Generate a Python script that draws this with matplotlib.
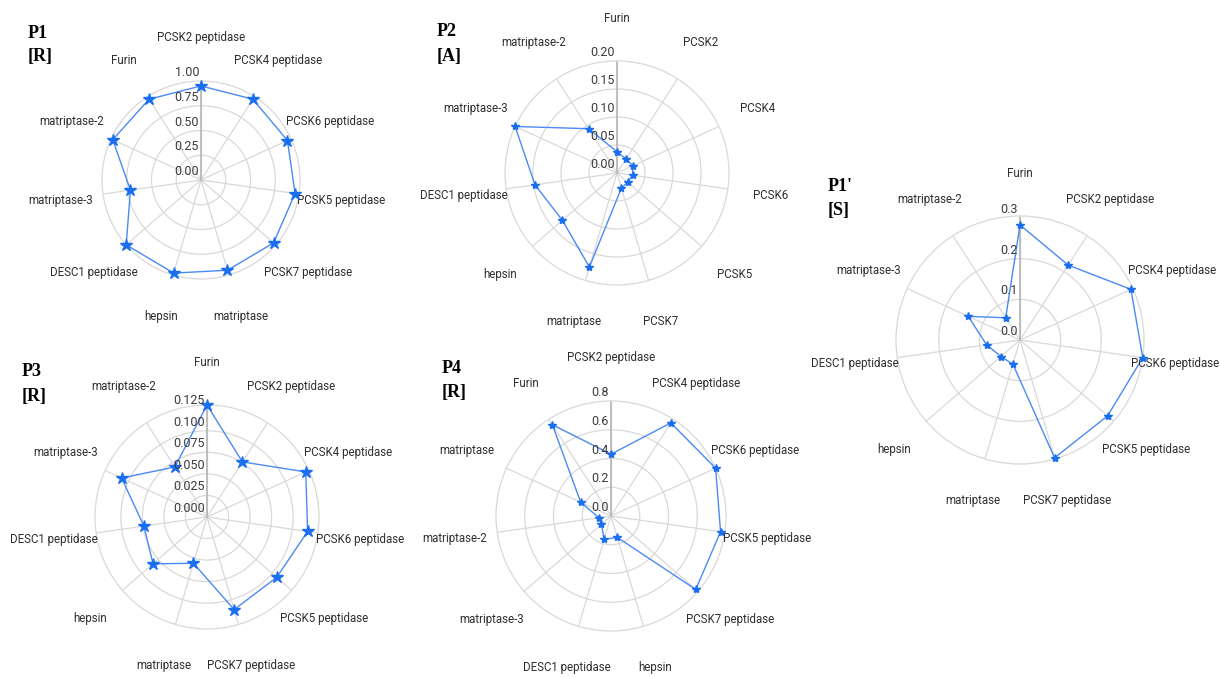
import numpy as np
import matplotlib
matplotlib.use('Agg')
import matplotlib.pyplot as plt

plt.rcParams['font.family'] = ['Roboto', 'DejaVu Sans']

# Subsite P1 [R]
p1_cats = ['PCSK2 peptidase', 'PCSK4 peptidase', 'PCSK6 peptidase', 'PCSK5 peptidase',
           'PCSK7 peptidase', 'matriptase', 'hepsin', 'DESC1 peptidase',
           'matriptase-3', 'matriptase-2', 'Furin']
p1_vals = [0.95, 0.97, 0.96, 0.96, 0.97, 0.95, 0.98, 1.00, 0.72, 0.98, 0.97]
p1_ticks = [0.0, 0.25, 0.5, 0.75, 1.0]
p1_ticklabels = ['0.00', '0.25', '0.50', '0.75', '1.00']

# Subsite P2 [A]
p2_cats = ['Furin', 'PCSK2', 'PCSK4', 'PCSK6', 'PCSK5', 'PCSK7', 'matriptase',
           'hepsin', 'DESC1 peptidase', 'matriptase-3', 'matriptase-2']
p2_vals = [0.038, 0.030, 0.031, 0.028, 0.025, 0.028, 0.175, 0.129, 0.148, 0.200, 0.094]
p2_ticks = [0.0, 0.05, 0.10, 0.15, 0.20]
p2_ticklabels = ['0.00', '0.05', '0.10', '0.15', '0.20']

# Subsite P3 [R]
p3_cats = ['Furin', 'PCSK2 peptidase', 'PCSK4 peptidase', 'PCSK6 peptidase',
           'PCSK5 peptidase', 'PCSK7 peptidase', 'matriptase', 'hepsin',
           'DESC1 peptidase', 'matriptase-3', 'matriptase-2']
p3_vals = [0.130, 0.076, 0.126, 0.118, 0.107, 0.112, 0.056, 0.083, 0.074, 0.109, 0.069]
p3_ticks = [0.0, 0.025, 0.05, 0.075, 0.10, 0.125]
p3_ticklabels = ['0.000', '0.025', '0.050', '0.075', '0.100', '0.125']

# Subsite P4 [R]
p4_cats = ['PCSK2 peptidase', 'PCSK4 peptidase', 'PCSK6 peptidase', 'PCSK5 peptidase',
           'PCSK7 peptidase', 'hepsin', 'DESC1 peptidase', 'matriptase-3',
           'matriptase-2', 'matriptase', 'Furin']
p4_vals = [0.43, 0.77, 0.80, 0.77, 0.78, 0.155, 0.17, 0.088, 0.085, 0.232, 0.755]
p4_ticks = [0.0, 0.2, 0.4, 0.6, 0.8]
p4_ticklabels = ['0.0', '0.2', '0.4', '0.6', '0.8']

# Subsite P1' [S]
p1p_cats = ['Furin', 'PCSK2 peptidase', 'PCSK4 peptidase', 'PCSK6 peptidase',
            'PCSK5 peptidase', 'PCSK7 peptidase', 'matriptase', 'hepsin',
            'DESC1 peptidase', 'matriptase-3', 'matriptase-2']
p1p_vals = [0.283, 0.219, 0.300, 0.305, 0.285, 0.302, 0.062, 0.062, 0.083, 0.140, 0.065]
p1p_ticks = [0.0, 0.1, 0.2, 0.3]
p1p_ticklabels = ['0.0', '0.1', '0.2', '0.3']

W, H = 1220, 678
GRID = '#d9d9d9'
LINE = '#4a8af4'
STAR = '#1a6ef0'

cat_texts = []


def radar(cx, cy, R, cats, vals, ticks, ticklabels, ms):
    # axes box placed from centre / radius in pixels
    ax = fig.add_axes([(cx - R) / W, (H - cy - R) / H, 2 * R / W, 2 * R / H],
                      projection='polar')
    n = len(cats)
    th = np.arange(n) * 2 * np.pi / n
    rmax = max(vals)
    ax.set_theta_zero_location('N')
    ax.set_theta_direction(-1)
    ax.set_ylim(0, rmax)
    ax.set_xticks(th)
    ax.set_xticklabels([])
    # skip a grid ring that would sit right on the outer circle
    ax.set_yticks([t for t in ticks if 0 < t < 0.95 * rmax])
    ax.set_yticklabels([])
    ax.tick_params(length=0)
    ax.grid(color=GRID, lw=0.9)
    ax.spines['polar'].set_color(GRID)
    ax.spines['polar'].set_linewidth(0.9)
    ax.plot([0, 0], [0, rmax], color='#b5b5b5', lw=1.2, zorder=2)

    tt = np.append(th, th[0])
    vv = np.append(vals, vals[0])
    ax.plot(tt, vv, color=LINE, lw=1.0, zorder=3, clip_on=False)
    ax.plot(th, vals, ls='none', marker='*', ms=ms, color=STAR, zorder=4, clip_on=False)

    for t, lbl in zip(ticks, ticklabels):
        ax.annotate(lbl, xy=(0, t), xytext=(-2, 2), textcoords='offset pixels',
                    ha='right', va='bottom', fontsize=9, color='#3a3a3a',
                    annotation_clip=False, zorder=5)
    for a, c in zip(th, cats):
        t = ax.annotate(c, xy=(a, rmax), xytext=(43 * np.sin(a), 43 * np.cos(a)),
                        textcoords='offset pixels', ha='center', va='center',
                        fontsize=8.3, color='#2e2e2e', annotation_clip=False)
        cat_texts.append(t)
    return ax


def panel_title(x, y, name, res):
    fig.text(x / W, 1 - y / H, name, fontsize=13, fontweight='bold',
             family='Liberation Serif', ha='left', va='center')
    fig.text(x / W, 1 - (y + 24) / H, res, fontsize=13, fontweight='bold',
             family='Liberation Serif', ha='left', va='center')


fig = plt.figure(figsize=(W / 100, H / 100), dpi=100)

radar(201, 180, 99, p1_cats, p1_vals, p1_ticks, p1_ticklabels, 9)
radar(617, 173, 112, p2_cats, p2_vals, p2_ticks, p2_ticklabels, 6)
radar(1020, 340, 124, p1p_cats, p1p_vals, p1p_ticks, p1p_ticklabels, 6)
radar(207, 517, 112, p3_cats, p3_vals, p3_ticks, p3_ticklabels, 9)
radar(611, 516, 115, p4_cats, p4_vals, p4_ticks, p4_ticklabels, 6)

panel_title(28, 33, 'P1', '[R]')
panel_title(437, 32, 'P2', '[A]')
panel_title(828, 187, "P1'", '[S]')
panel_title(22, 372, 'P3', '[R]')
panel_title(442, 369, 'P4', '[R]')

# pull labels back inside the right edge of the figure
fig.canvas.draw()
renderer = fig.canvas.get_renderer()
for t in cat_texts:
    bb = t.get_window_extent(renderer)
    over = bb.x1 - (W - 1)
    if over > 0:
        dx, dy = t.xyann
        t.xyann = (dx - over, dy)

plt.savefig('out.png', dpi=100)
plt.close('all')
